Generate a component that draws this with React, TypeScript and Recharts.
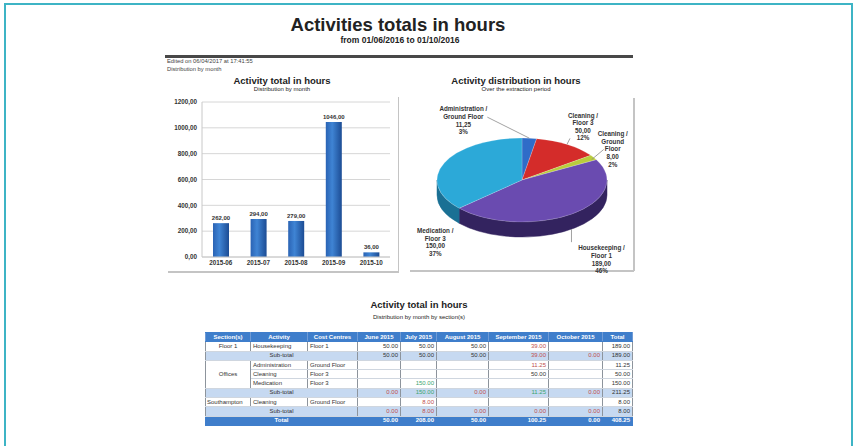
import React from 'react';
import { BarChart, Bar, XAxis, YAxis, CartesianGrid, LabelList, PieChart, Pie, Cell } from 'recharts';

// ---------- data ----------
const months = ['2015-06', '2015-07', '2015-08', '2015-09', '2015-10'];
const monthlyHours = [262, 294, 279, 1046, 36];
const yTicks = [0, 200, 400, 600, 800, 1000, 1200];

const sliceNames = [
  'Administration / Ground Floor',
  'Cleaning / Floor 3',
  'Cleaning / Ground Floor',
  'Housekeeping / Floor 1',
  'Medication / Floor 3',
];
const sliceHours = [11.25, 50, 8, 189, 150];

const tableMonths = ['June 2015', 'July 2015', 'August 2015', 'September 2015', 'October 2015'];
const housekeepingFloor1 = [50, 50, 50, 39, null];
const floor1Subtotal = [50, 50, 50, 39, 0];
const adminGround = [null, null, null, 11.25, null];
const cleaningFloor3 = [null, null, null, 50, null];
const medicationFloor3 = [null, 150, null, null, null];
const officesSubtotal = [0, 150, 0, 11.25, 0];
const southamptonCleaning = [null, 8, null, null, null];
const southamptonSubtotal = [0, 8, 0, 0, 0];
const grandTotal = [50, 208, 50, 100.25, 0];
const rowTotals = [189, 189, 11.25, 50, 150, 211.25, 8, 8, 408.25];

// ---------- styles ----------
const FONT = '"Liberation Sans", Arial, Helvetica, sans-serif';
const TOP_COLORS = ['#2f6cc8', '#d42c2a', '#b9cc3c', '#6a4bb0', '#2ca9d8'];
const SIDE_COLORS = ['#1d4a8c', '#8c1b1a', '#7a8a22', '#33235f', '#1a7094'];
const RED = '#c0504d';
const GREEN = '#3aa46e';
const toneHousekeeping = ['', '', '', 'r', ''];
const toneFloor1Sub = ['', '', '', 'r', 'r'];
const toneAdmin = ['', '', '', 'r', ''];
const toneCleaning = ['', '', '', '', ''];
const toneMedication = ['', 'g', '', '', ''];
const toneOfficesSub = ['r', 'g', 'r', 'g', 'r'];
const toneSouthClean = ['', 'r', '', '', ''];
const toneSouthSub = ['r', 'r', 'r', 'r', 'r'];

const K = 0.494; // ellipse ratio ry/rx
const DEPTH = 15;

// label layout relative to the slice anchor on the rim
const LABEL_LAYOUT = [
  { dx: -66, dy: -29, lead: [0, 0, -42, -21], wrap: false },
  { dx: 16, dy: -29, lead: [0, 0, 3, -6], wrap: false },
  { dx: 19, dy: -23.5, lead: [-2, 2, 10, -8], wrap: true },
  { dx: 30, dy: 34, lead: [0, 15, 0, 28], wrap: false },
  { dx: -9, dy: 68, lead: null, wrap: false },
];

const commaFmt = (v: number) => Number(v).toFixed(2).replace('.', ',');
const dotFmt = (v: number) => Number(v).toFixed(2);

const barData = months.map((m, i) => ({ month: m, hours: monthlyHours[i] }));
const pieData = sliceNames.map((n, i) => ({ name: n, value: sliceHours[i] }));

function pt(cx: number, cy: number, rx: number, ry: number, deg: number) {
  const a = (deg * Math.PI) / 180;
  return [cx + rx * Math.cos(a), cy - ry * Math.sin(a)];
}

function Slice3D(props: any) {
  const { cx, cy, outerRadius, startAngle, endAngle } = props;
  const name = props.name ?? props.payload?.name;
  let idx = sliceNames.indexOf(name);
  if (idx < 0) idx = 0;
  const rx = outerRadius;
  const ry = outerRadius * K;
  const s = Math.max(startAngle, endAngle);
  const e = Math.min(startAngle, endAngle);
  const [x1, y1] = pt(cx, cy, rx, ry, s);
  const [x2, y2] = pt(cx, cy, rx, ry, e);
  const large = s - e > 180 ? 1 : 0;
  const top = `M${cx},${cy} L${x1},${y1} A${rx},${ry} 0 ${large} 1 ${x2},${y2} Z`;
  const walls: string[] = [];
  for (let k = -2; k <= 1; k++) {
    const lo = Math.max(e, -180 + 360 * k);
    const hi = Math.min(s, 360 * k);
    if (lo < hi) {
      const [ax, ay] = pt(cx, cy, rx, ry, hi);
      const [bx, by] = pt(cx, cy, rx, ry, lo);
      walls.push(
        `M${ax},${ay} A${rx},${ry} 0 0 1 ${bx},${by} L${bx},${by + DEPTH} A${rx},${ry} 0 0 0 ${ax},${ay + DEPTH} Z`
      );
    }
  }
  return (
    <g>
      {walls.map((d, i) => (
        <path key={i} d={d} fill={SIDE_COLORS[idx]} stroke={SIDE_COLORS[idx]} strokeWidth={0.5} />
      ))}
      <path d={top} fill={TOP_COLORS[idx]} stroke="rgba(255,255,255,0.35)" strokeWidth={0.5} />
    </g>
  );
}

function PieLabel(props: any) {
  const { cx, cy, outerRadius, midAngle, name, value, percent } = props;
  let idx = sliceNames.indexOf(name ?? props.payload?.name);
  if (idx < 0) idx = props.index ?? 0;
  const lay = LABEL_LAYOUT[idx];
  const [ax, ay] = pt(cx, cy, outerRadius, outerRadius * K, midAngle);
  const parts = String(name).split(' / ');
  let lines: string[] = [parts[0] + ' /'];
  if (lay.wrap) lines = lines.concat(parts[1].split(' '));
  else lines.push(parts[1]);
  lines.push(commaFmt(value));
  lines.push(Math.round(percent * 100) + '%');
  const lx = ax + lay.dx;
  const ly = ay + lay.dy;
  return (
    <g>
      {lay.lead && (
        <line
          x1={ax + lay.lead[0]}
          y1={ay + lay.lead[1]}
          x2={ax + lay.lead[2]}
          y2={ay + lay.lead[3]}
          stroke="#8a8a8a"
          strokeWidth={0.8}
        />
      )}
      <text x={lx} y={ly} textAnchor="middle" fontSize={6.3} fontWeight="bold" fill="#333" fontFamily={FONT}>
        {lines.map((l, i) => (
          <tspan key={i} x={lx} y={ly + 2.2 + i * 7.6}>
            {l}
          </tspan>
        ))}
      </text>
    </g>
  );
}

const abs = (l: number, t: number, extra: React.CSSProperties = {}): React.CSSProperties => ({
  position: 'absolute',
  left: l,
  top: t,
  ...extra,
});

function Centered({ cx, top, size, bold, children, lh }: any) {
  return (
    <div
      style={abs(cx - 200, top, {
        width: 400,
        textAlign: 'center',
        fontSize: size,
        lineHeight: (lh ?? size + 2) + 'px',
        fontWeight: bold ? 'bold' : 'normal',
        whiteSpace: 'nowrap',
        color: '#222',
      })}
    >
      {children}
    </div>
  );
}

const BLUE = '#3f7ecb';
const SUB_BG = '#c6d9f1';
const ROW_H = 8.3;

const tdBase: React.CSSProperties = {
  height: ROW_H,
  padding: '0 2px',
  fontSize: 6,
  lineHeight: '7px',
  borderLeft: '1px solid #8d949c',
  borderRight: '1px solid #8d949c',
  borderTop: '1px solid #cfd6df',
  borderBottom: '1px solid #cfd6df',
  whiteSpace: 'nowrap',
  overflow: 'hidden',
  color: '#333',
};

function NumCells({ vals, tones, bg }: { vals: (number | null)[]; tones: string[]; bg?: string }) {
  return (
    <>
      {vals.map((v, i) => (
        <td
          key={i}
          style={{
            ...tdBase,
            textAlign: 'right',
            background: bg,
            color: tones[i] === 'r' ? RED : tones[i] === 'g' ? GREEN : '#333',
          }}
        >
          {v === null ? '' : dotFmt(v)}
        </td>
      ))}
    </>
  );
}

function DataTable() {
  const colW = [45, 57, 50, 43, 36, 52, 60, 54, 30];
  const headers = ['Section(s)', 'Activity', 'Cost Centres', ...tableMonths, 'Total'];
  const left: React.CSSProperties = { ...tdBase, textAlign: 'left' };
  const center: React.CSSProperties = { ...tdBase, textAlign: 'center' };
  const tot = (i: number, bg?: string): React.ReactNode => (
    <td style={{ ...tdBase, textAlign: 'right', background: bg }}>{dotFmt(rowTotals[i])}</td>
  );
  const sub = (vals: (number | null)[], tones: string[], i: number) => (
    <tr>
      <td colSpan={3} style={{ ...center, background: SUB_BG }}>
        Sub-total
      </td>
      <NumCells vals={vals} tones={tones} bg={SUB_BG} />
      {tot(i, SUB_BG)}
    </tr>
  );
  return (
    <table
      style={{
        ...abs(205, 332),
        width: 427,
        borderCollapse: 'collapse',
        tableLayout: 'fixed',
        fontFamily: FONT,
        border: `1px solid ${BLUE}`,
      }}
    >
      <colgroup>
        {colW.map((w, i) => (
          <col key={i} style={{ width: w }} />
        ))}
      </colgroup>
      <tbody>
        <tr>
          {headers.map((h, i) => (
            <td
              key={i}
              style={{
                ...tdBase,
                background: BLUE,
                color: '#fff',
                fontWeight: 'bold',
                textAlign: 'center',
                borderLeft: '1px solid #6f9bd6',
                borderRight: '1px solid #6f9bd6',
                borderTop: `1px solid ${BLUE}`,
                borderBottom: `1px solid ${BLUE}`,
              }}
            >
              {h}
            </td>
          ))}
        </tr>
        <tr>
          <td style={center}>Floor 1</td>
          <td style={left}>Housekeeping</td>
          <td style={left}>Floor 1</td>
          <NumCells vals={housekeepingFloor1} tones={toneHousekeeping} />
          {tot(0)}
        </tr>
        {sub(floor1Subtotal, toneFloor1Sub, 1)}
        <tr>
          <td rowSpan={3} style={center}>
            Offices
          </td>
          <td style={left}>Administration</td>
          <td style={left}>Ground Floor</td>
          <NumCells vals={adminGround} tones={toneAdmin} />
          {tot(2)}
        </tr>
        <tr>
          <td style={left}>Cleaning</td>
          <td style={left}>Floor 3</td>
          <NumCells vals={cleaningFloor3} tones={toneCleaning} />
          {tot(3)}
        </tr>
        <tr>
          <td style={left}>Medication</td>
          <td style={left}>Floor 3</td>
          <NumCells vals={medicationFloor3} tones={toneMedication} />
          {tot(4)}
        </tr>
        {sub(officesSubtotal, toneOfficesSub, 5)}
        <tr>
          <td style={{ ...left, paddingLeft: 1 }}>Southampton</td>
          <td style={left}>Cleaning</td>
          <td style={left}>Ground Floor</td>
          <NumCells vals={southamptonCleaning} tones={toneSouthClean} />
          {tot(6)}
        </tr>
        {sub(southamptonSubtotal, toneSouthSub, 7)}
        <tr>
          <td
            colSpan={3}
            style={{ ...center, background: BLUE, color: '#fff', fontWeight: 'bold', borderColor: BLUE }}
          >
            Total
          </td>
          {grandTotal.map((v, i) => (
            <td
              key={i}
              style={{
                ...tdBase,
                textAlign: 'right',
                background: BLUE,
                color: '#fff',
                fontWeight: 'bold',
                borderColor: BLUE,
              }}
            >
              {dotFmt(v)}
            </td>
          ))}
          <td style={{ ...tdBase, textAlign: 'right', background: BLUE, color: '#fff', fontWeight: 'bold', borderColor: BLUE }}>
            {dotFmt(rowTotals[8])}
          </td>
        </tr>
      </tbody>
    </table>
  );
}

export default function App() {
  const axisTick = { fontSize: 6.3, fill: '#333', fontWeight: 'bold', fontFamily: FONT };
  return (
    <div
      style={{
        position: 'absolute',
        left: 0,
        top: 0,
        width: 854,
        height: 446,
        background: '#fff',
        overflow: 'hidden',
        fontFamily: FONT,
        color: '#222',
      }}
    >
      <svg width={0} height={0} style={{ position: 'absolute' }}>
        <defs>
          <linearGradient id="barGrad" x1="0" y1="0" x2="1" y2="0">
            <stop offset="0%" stopColor="#2a63b4" />
            <stop offset="40%" stopColor="#3f84d4" />
            <stop offset="100%" stopColor="#1c4c94" />
          </linearGradient>
        </defs>
      </svg>

      {/* frame */}
      <div style={abs(4, 3, { width: 845, height: 460, border: '2px solid #3db4c5' })} />

      <Centered cx={398} top={15} size={18.5} bold lh={20}>
        Activities totals in hours
      </Centered>
      <Centered cx={400} top={35} size={8.5} bold lh={10}>
        from 01/06/2016 to 01/10/2016
      </Centered>

      <div style={abs(165, 55, { width: 468, height: 2.5, background: '#484848' })} />
      <div style={abs(167, 58, { fontSize: 5.8, lineHeight: '7px', color: '#444', whiteSpace: 'nowrap' })}>
        Edited on 06/04/2017 at 17:41:55
      </div>
      <div style={abs(167, 66, { fontSize: 5.8, lineHeight: '7px', color: '#444', whiteSpace: 'nowrap' })}>
        Distribution by month
      </div>

      {/* bar chart panel */}
      <Centered cx={282} top={76} size={9.5} bold lh={10}>
        Activity total in hours
      </Centered>
      <Centered cx={282} top={86} size={6} lh={6}>
        Distribution by month
      </Centered>
      <div style={abs(168, 271, { width: 231, height: 1.5, background: '#c4c4c4' })} />
      <div style={abs(397.5, 97, { width: 1.5, height: 175, background: '#c4c4c4' })} />
      <div style={abs(160, 95)}>
        <BarChart width={240} height={180} data={barData} margin={{ top: 7, right: 10, bottom: 4, left: 0 }}>
          <CartesianGrid vertical={false} stroke="#d6d6d6" />
          <XAxis
            dataKey="month"
            height={14}
            tick={axisTick}
            tickLine={false}
            tickSize={4}
            tickMargin={0}
            axisLine={{ stroke: '#c8c8c8' }}
            interval={0}
          />
          <YAxis
            width={42}
            domain={[0, 1200]}
            ticks={yTicks}
            tickFormatter={commaFmt}
            tick={axisTick}
            tickLine={false}
            tickSize={4}
            tickMargin={1}
            axisLine={{ stroke: '#c8c8c8' }}
          />
          <Bar dataKey="hours" fill="url(#barGrad)" barSize={16} isAnimationActive={false}>
            <LabelList
              dataKey="hours"
              position="top"
              offset={3}
              formatter={(v: any) => commaFmt(v)}
              style={{ fontSize: 6, fill: '#333', fontWeight: 'bold', fontFamily: FONT }}
            />
          </Bar>
        </BarChart>
      </div>

      {/* pie chart panel */}
      <Centered cx={516} top={76} size={9.5} bold lh={10}>
        Activity distribution in hours
      </Centered>
      <Centered cx={516} top={86} size={6} lh={6}>
        Over the extraction period
      </Centered>
      <div style={abs(410, 270, { width: 224, height: 1.5, background: '#c4c4c4' })} />
      <div style={abs(633, 98, { width: 1.5, height: 173, background: '#c4c4c4' })} />
      <div style={abs(408, 95)}>
        <PieChart width={226} height={178}>
          <Pie
            data={pieData}
            dataKey="value"
            nameKey="name"
            cx={109}
            cy={80}
            outerRadius={85}
            startAngle={90}
            endAngle={-270}
            shape={Slice3D}
            label={PieLabel}
            labelLine={false}
            stroke="none"
            isAnimationActive={false}
          >
            {pieData.map((d, i) => (
              <Cell key={i} fill={TOP_COLORS[i]} />
            ))}
          </Pie>
        </PieChart>
      </div>

      {/* table */}
      <Centered cx={419} top={300} size={9.5} bold lh={10}>
        Activity total in hours
      </Centered>
      <Centered cx={419} top={314} size={6} lh={6}>
        Distribution by month by section(s)
      </Centered>
      <DataTable />
    </div>
  );
}
